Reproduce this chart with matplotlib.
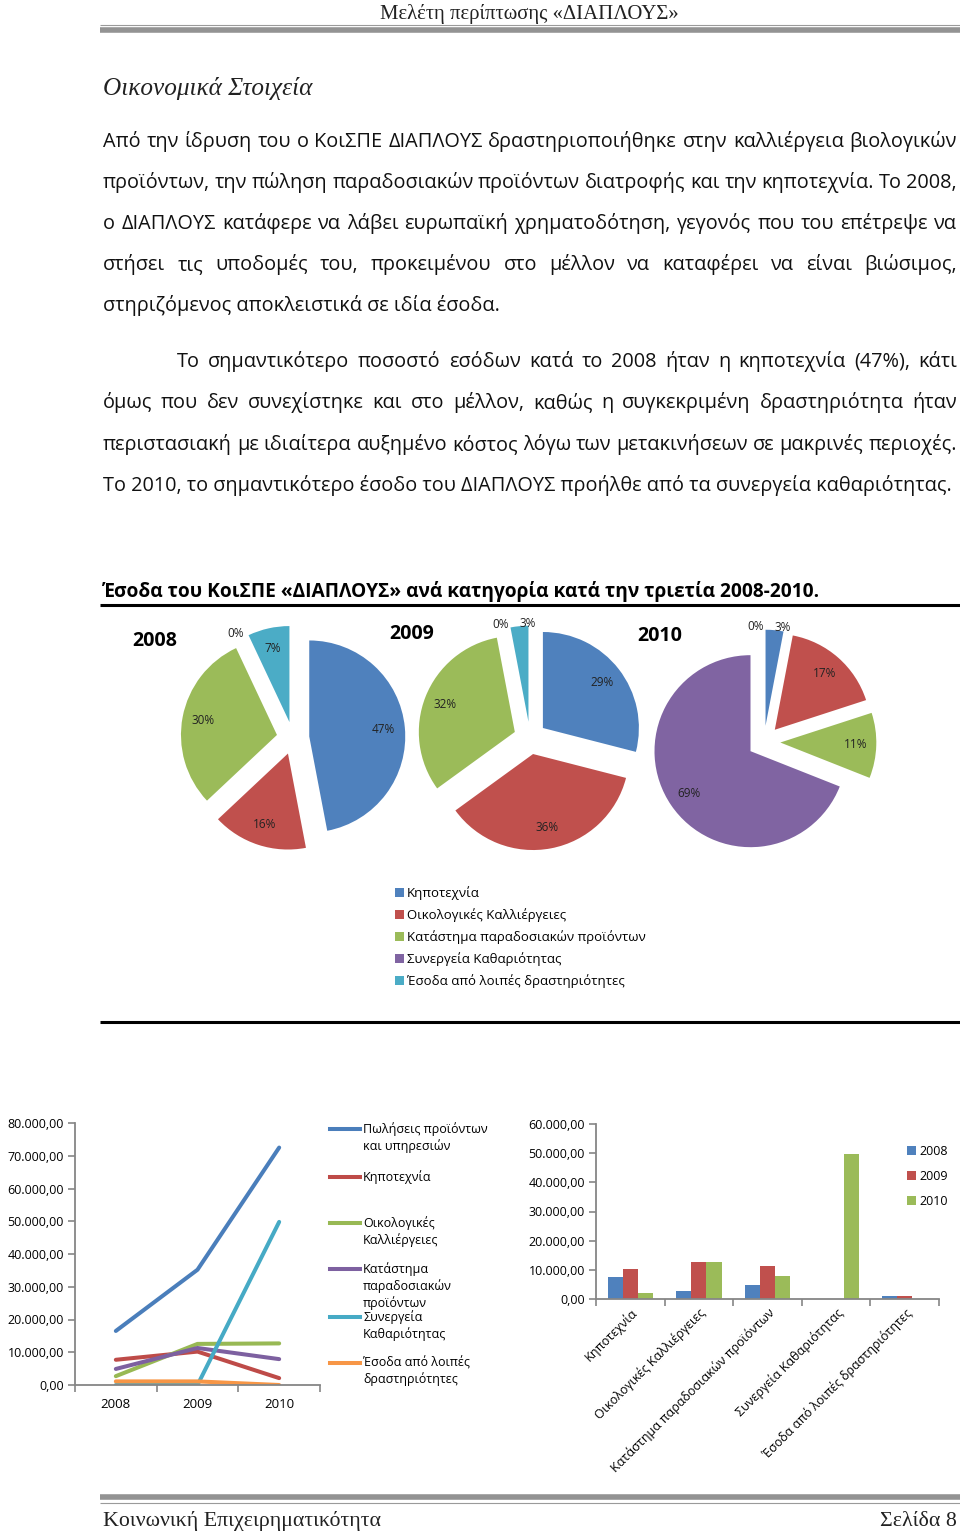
import math

import matplotlib
matplotlib.use("Agg")
import matplotlib.pyplot as plt
from matplotlib.lines import Line2D
from matplotlib.ticker import FuncFormatter

# --- δεδομένα -------------------------------------------------------------
years = ["2008", "2009", "2010"]
categories = [
    "Κηποτεχνία",
    "Οικολογικές Καλλιέργειες",
    "Κατάστημα παραδοσιακών προϊόντων",
    "Συνεργεία Καθαριότητας",
    "Έσοδα από λοιπές δραστηριότητες",
]
# ποσοστά ανά κατηγορία (σειρά όπως categories)
pie_2008 = [47, 16, 30, 0, 7]
pie_2009 = [29, 36, 32, 0, 3]
pie_2010 = [3, 17, 11, 69, 0]

# ποσά ανά έτος (2008, 2009, 2010)
sales = [16500, 35200, 72500]
kipotexnia = [7700, 10200, 2100]
oikologikes = [2700, 12550, 12700]
katastima = [4900, 11300, 7900]
synergeia = [0, 0, 49800]
loipa = [1100, 1100, 0]

line_labels = [
    "Πωλήσεις προϊόντων\nκαι υπηρεσιών",
    "Κηποτεχνία",
    "Οικολογικές\nΚαλλιέργειες",
    "Κατάστημα\nπαραδοσιακών\nπροϊόντων",
    "Συνεργεία\nΚαθαριότητας",
    "Έσοδα από λοιπές\nδραστηριότητες",
]

para1 = [
    "Από την ίδρυση του ο ΚοιΣΠΕ ΔΙΑΠΛΟΥΣ δραστηριοποιήθηκε στην καλλιέργεια βιολογικών",
    "προϊόντων, την πώληση παραδοσιακών προϊόντων διατροφής και την κηποτεχνία. Το 2008,",
    "ο ΔΙΑΠΛΟΥΣ κατάφερε να λάβει ευρωπαϊκή χρηματοδότηση, γεγονός που του επέτρεψε να",
    "στήσει τις υποδομές του, προκειμένου στο μέλλον να καταφέρει να είναι βιώσιμος,",
    "στηριζόμενος αποκλειστικά σε ιδία έσοδα.",
]
para2 = [
    "Το σημαντικότερο ποσοστό εσόδων κατά το 2008 ήταν η κηποτεχνία (47%), κάτι",
    "όμως που δεν συνεχίστηκε και στο μέλλον, καθώς η συγκεκριμένη δραστηριότητα ήταν",
    "περιστασιακή με ιδιαίτερα αυξημένο κόστος λόγω των μετακινήσεων σε μακρινές περιοχές.",
    "Το 2010, το σημαντικότερο έσοδο του ΔΙΑΠΛΟΥΣ προήλθε από τα συνεργεία καθαριότητας.",
]

# --- στυλ ----------------------------------------------------------------
W, H = 960, 1533
SANS = ["Open Sans", "DejaVu Sans"]
SERIF = ["Liberation Serif", "DejaVu Serif"]
pie_colors = ["#4F81BD", "#C0504D", "#9BBB59", "#8064A2", "#4BACC6"]
line_colors = ["#4A7EBB", "#BE4B48", "#98B954", "#7D60A0", "#46AAC5", "#F79646"]
axis_gray = "#868686"

plt.rcParams["font.family"] = SANS

fig = plt.figure(figsize=(W / 100, H / 100), dpi=100)
renderer = fig.canvas.get_renderer()


def fx(x):
    return x / W


def fy(y):
    return 1 - y / H


def text_width(s, **kw):
    t = fig.text(0, 0, s, **kw)
    w = t.get_window_extent(renderer).width
    t.remove()
    return w


def fit_size(s, target, **kw):
    return 10 * target / text_width(s, fontsize=10, **kw)


def justify(line, x0, x1, y, **kw):
    words = line.split()
    widths = [text_width(w, **kw) for w in words]
    gap = (x1 - x0 - sum(widths)) / (len(words) - 1)
    x = x0
    for w, wd in zip(words, widths):
        fig.text(fx(x), fy(y), w, va="baseline", ha="left", **kw)
        x += wd + gap


def hline(y, x0, x1, lw, color):
    fig.add_artist(Line2D([fx(x0), fx(x1)], [fy(y), fy(y)], lw=lw, color=color,
                          transform=fig.transFigure, solid_capstyle="butt"))


def money(v, _pos=None):
    return f"{v:,.2f}".replace(",", "X").replace(".", ",").replace("X", ".")


# --- κεφαλίδα / υποσέλιδο ------------------------------------------------
hs = fit_size("Μελέτη περίπτωσης «ΔΙΑΠΛΟΥΣ»", 298, family=SERIF)
fig.text(fx(380), fy(19), "Μελέτη περίπτωσης «ΔΙΑΠΛΟΥΣ»", family=SERIF, fontsize=hs,
         va="baseline", color="#222222")
hline(24.5, 100, 960, 0.8, "#9a9a9a")
hline(30, 100, 960, 4.0, "#939393")

hline(1497, 100, 960, 4.0, "#939393")
hline(1503, 100, 960, 0.8, "#9a9a9a")
fs_foot = fit_size("Κοινωνική Επιχειρηματικότητα", 277, family=SERIF)
fig.text(fx(103), fy(1526), "Κοινωνική Επιχειρηματικότητα", family=SERIF, fontsize=fs_foot,
         va="baseline", color="#222222")
fig.text(fx(957), fy(1526), "Σελίδα 8", family=SERIF, fontsize=fs_foot, va="baseline",
         ha="right", color="#222222")

ts = fit_size("Οικονομικά Στοιχεία", 210, family=SERIF, style="italic")
fig.text(fx(103), fy(95), "Οικονομικά Στοιχεία", family=SERIF, style="italic", fontsize=ts,
         va="baseline", color="#222222")

# --- κείμενο ---------------------------------------------------------------
ps = fit_size(para2[-1], 847, family=SANS)
body = dict(family=SANS, fontsize=ps, color="#111111")
base1 = [147, 188, 229, 270, 311]
base2 = [367, 408, 450, 491]
for i, (line, y) in enumerate(zip(para1, base1)):
    if i < len(para1) - 1:
        justify(line, 103, 957, y, **body)
    else:
        fig.text(fx(103), fy(y), line, va="baseline", **body)
for i, (line, y) in enumerate(zip(para2, base2)):
    if i < len(para2) - 1:
        justify(line, 177 if i == 0 else 103, 957, y, **body)
    else:
        fig.text(fx(103), fy(y), line, va="baseline", **body)

# --- τίτλος γραφήματος ---------------------------------------------------
title = "Έσοδα του ΚοιΣΠΕ «ΔΙΑΠΛΟΥΣ» ανά κατηγορία κατά την τριετία 2008-2010."
tsz = fit_size(title, 715, family=SANS, weight="bold")
fig.text(fx(103), fy(597), title, family=SANS, weight="bold", fontsize=tsz, va="baseline")
hline(605, 100, 960, 2.2, "black")
hline(1022, 100, 960, 2.2, "black")

# --- πίτες ----------------------------------------------------------------
R = 96
L = 1.45
pie_centers = [(293, 738), (530, 738), (764, 742)]
year_pos = [(155, 646), (412, 639), (660, 641)]
ysz = fit_size("2008", 45, family=SANS, weight="bold")
wedges_first = None
for vals, yr, (cx, cy), (tx, ty) in zip([pie_2008, pie_2009, pie_2010], years,
                                         pie_centers, year_pos):
    side = 2 * L * R
    ax = fig.add_axes([fx(cx - side / 2), fy(cy + side / 2), side / W, side / H])
    ax.set_facecolor("none")
    wedges, _ = ax.pie(vals, colors=pie_colors, startangle=90, counterclock=False,
                       explode=[0.17] * len(vals), radius=1, normalize=True)
    if wedges_first is None:
        wedges_first = wedges
    ax.set_xlim(-L, L)
    ax.set_ylim(-L, L)
    ax.axis("off")
    for w, v in zip(wedges, vals):
        ang = math.radians((w.theta1 + w.theta2) / 2)
        ox, oy = w.center
        if v >= 5:
            d, ha = 0.78, "center"
        elif v == 0:
            d, ha = 1.03, "right"
        else:
            d, ha = 1.03, "left"
        ax.text(ox + d * math.cos(ang), oy + d * math.sin(ang), f"{v}%", ha=ha,
                va="center", fontsize=8.5, color="#222222")
    fig.text(fx(tx), fy(ty), yr, family=SANS, weight="bold", fontsize=ysz, ha="center",
             va="baseline")

fig.legend(wedges_first, categories, loc="upper left",
           bbox_to_anchor=(fx(395), fy(886)), bbox_transform=fig.transFigure,
           frameon=False, fontsize=9.5, handlelength=0.65, handleheight=0.65,
           handletextpad=0.25, labelspacing=0.62, borderpad=0, borderaxespad=0)

# --- γράφημα γραμμών -------------------------------------------------------
axl = fig.add_axes([fx(75), fy(1385), 245 / W, 262 / H])
series = [sales, kipotexnia, oikologikes, katastima, synergeia, loipa]
xs = list(range(len(years)))
for vals, col in zip(series, line_colors):
    axl.plot(xs, vals, color=col, lw=2.9, solid_capstyle="round", solid_joinstyle="round")
axl.set_xlim(-0.5, len(years) - 0.5)
axl.set_ylim(0, 80000)
axl.set_yticks(range(0, 80001, 10000))
axl.yaxis.set_major_formatter(FuncFormatter(money))
axl.set_xticks(xs)
axl.set_xticklabels(years)
axl.set_xticks([x - 0.5 for x in range(len(years) + 1)], minor=True)
axl.tick_params(axis="x", which="major", length=0, pad=9, labelsize=9.5)
axl.tick_params(axis="x", which="minor", length=5, color=axis_gray, width=1.2)
axl.tick_params(axis="y", length=5, color=axis_gray, width=1.2, labelsize=9, pad=3)
for s in ("top", "right"):
    axl.spines[s].set_visible(False)
for s in ("left", "bottom"):
    axl.spines[s].set_color(axis_gray)
    axl.spines[s].set_linewidth(1.3)

leg_y = [1129, 1177, 1223, 1269, 1317, 1363]
for lab, col, y in zip(line_labels, line_colors, leg_y):
    fig.add_artist(Line2D([fx(330), fx(360)], [fy(y), fy(y)], lw=2.9, color=col,
                          transform=fig.transFigure))
    fig.text(fx(363), fy(y - 7), lab, va="top", ha="left", fontsize=9, linespacing=1.3)

# --- γράφημα ράβδων --------------------------------------------------------
axb = fig.add_axes([fx(596), fy(1299), 343 / W, 175 / H])
bar_series = [
    [kipotexnia[0], oikologikes[0], katastima[0], synergeia[0], loipa[0]],
    [kipotexnia[1], oikologikes[1], katastima[1], synergeia[1], loipa[1]],
    [kipotexnia[2], oikologikes[2], katastima[2], synergeia[2], loipa[2]],
]
bw = 0.22
cx_ = list(range(len(categories)))
for i, (vals, col, yr) in enumerate(zip(bar_series, pie_colors[:3], years)):
    axb.bar([c + (i - 1) * bw for c in cx_], vals, width=bw, color=col, label=yr)
axb.set_xlim(-0.5, len(categories) - 0.5)
axb.set_ylim(0, 60000)
axb.set_yticks(range(0, 60001, 10000))
axb.yaxis.set_major_formatter(FuncFormatter(money))
axb.set_xticks(cx_)
axb.set_xticklabels(categories, rotation=45, ha="right", va="top", rotation_mode="anchor",
                    fontsize=9)
axb.set_xticks([c - 0.5 for c in range(len(categories) + 1)], minor=True)
axb.tick_params(axis="x", which="major", length=0, pad=5)
axb.tick_params(axis="x", which="minor", length=5, color=axis_gray, width=1.2)
axb.tick_params(axis="y", length=5, color=axis_gray, width=1.2, labelsize=9, pad=3)
for s in ("top", "right"):
    axb.spines[s].set_visible(False)
for s in ("left", "bottom"):
    axb.spines[s].set_color(axis_gray)
    axb.spines[s].set_linewidth(1.3)
axb.legend(loc="upper left", bbox_to_anchor=(fx(907), fy(1145)),
           bbox_transform=fig.transFigure, frameon=False, fontsize=9, handlelength=0.7,
           handleheight=0.7, handletextpad=0.3, labelspacing=0.95, borderpad=0,
           borderaxespad=0)

fig.savefig("out.png", dpi=100)
